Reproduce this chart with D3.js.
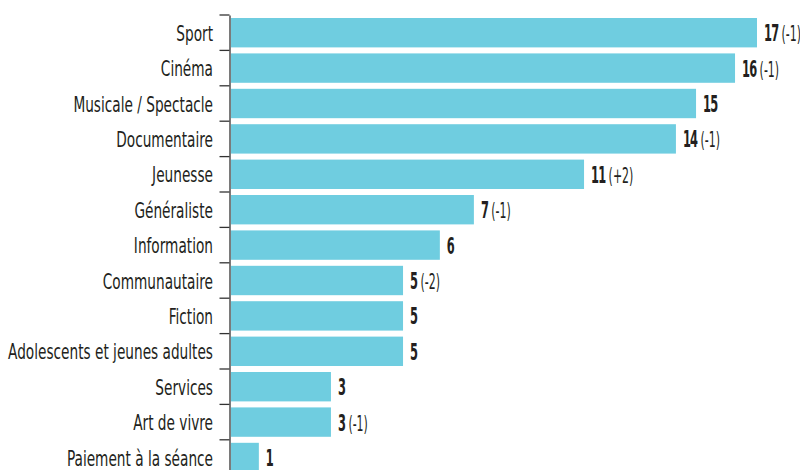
<!DOCTYPE html>
<html><head><meta charset="utf-8">
<script src="https://cdn.jsdelivr.net/npm/d3@7"></script>
<style>
html,body{margin:0;padding:0;background:#fff;}
text{font-family:'Liberation Sans Narrow','Arial Narrow','DejaVu Sans Condensed',sans-serif;fill:#231f20;}
</style></head>
<body>
<svg id="chart" width="800" height="470"></svg>
<script>
const categories = ["Sport","Cinéma","Musicale / Spectacle","Documentaire","Jeunesse","Généraliste","Information","Communautaire","Fiction","Adolescents et jeunes adultes","Services","Art de vivre","Paiement à la séance"];
const values = [17, 16.29, 15.03, 14.38, 11.41, 7.85, 6.75, 5.56, 5.56, 5.56, 3.23, 3.23, 0.9];
const counts = ["17","16","15","14","11","7","6","5","5","5","3","3","1"];
const changes = ["(-1)","(-1)","","(-1)","(+2)","(-1)","","(-2)","","","","(-1)",""];

const svg = d3.select("#chart");
const x = d3.scaleLinear().domain([0,17]).range([231,757]);
const y = d3.scaleBand().domain(categories).range([15, 15+35.4*13]).paddingInner(0.17).paddingOuter(0.085).align(0.5);

const fs = 22;
const tmp = svg.append("text").attr("font-size",fs).text("Adolescents et jeunes adultes");
const sx = 205 / tmp.node().getComputedTextLength();
tmp.remove();

svg.selectAll("rect.bar").data(categories).join("rect")
  .attr("class","bar")
  .attr("x", x(0))
  .attr("y", d => y(d))
  .attr("width", (d,i) => x(values[i]) - x(0))
  .attr("height", y.bandwidth())
  .attr("fill","#6fcde0");

const axis = d3.axisLeft(y).tickSize(0).tickFormat("");
const ag = svg.append("g").attr("transform","translate(229.5,0)").call(axis);
ag.select(".domain").attr("stroke","#333").attr("stroke-width",1.3);
const bounds = d3.range(14).map(i => 15 + i*35.4);
ag.selectAll("line.tk").data(bounds).join("line").attr("class","tk")
  .attr("x1",-10).attr("x2",0).attr("y1",d=>d).attr("y2",d=>d)
  .attr("stroke","#333").attr("stroke-width",1.3);

svg.selectAll("text.cat").data(categories).join("text")
  .attr("class","cat")
  .attr("font-size",fs)
  .attr("text-anchor","end")
  .attr("transform", d => `translate(213,${y(d)+y.bandwidth()/2+8}) scale(${sx},1)`)
  .text(d=>d);

const vl = svg.selectAll("text.val").data(categories).join("text")
  .attr("class","val")
  .attr("font-size",23)
  .attr("transform", (d,i) => `translate(${x(values[i])+7},${y(d)+y.bandwidth()/2+8.5}) scale(${sx*0.8},1)`);
vl.append("tspan").attr("font-weight","bold").attr("letter-spacing",-1.5).text((d,i)=>counts[i]);
vl.append("tspan").attr("dx",6).attr("font-size",22).text((d,i)=>changes[i]);
</script>
</body></html>
